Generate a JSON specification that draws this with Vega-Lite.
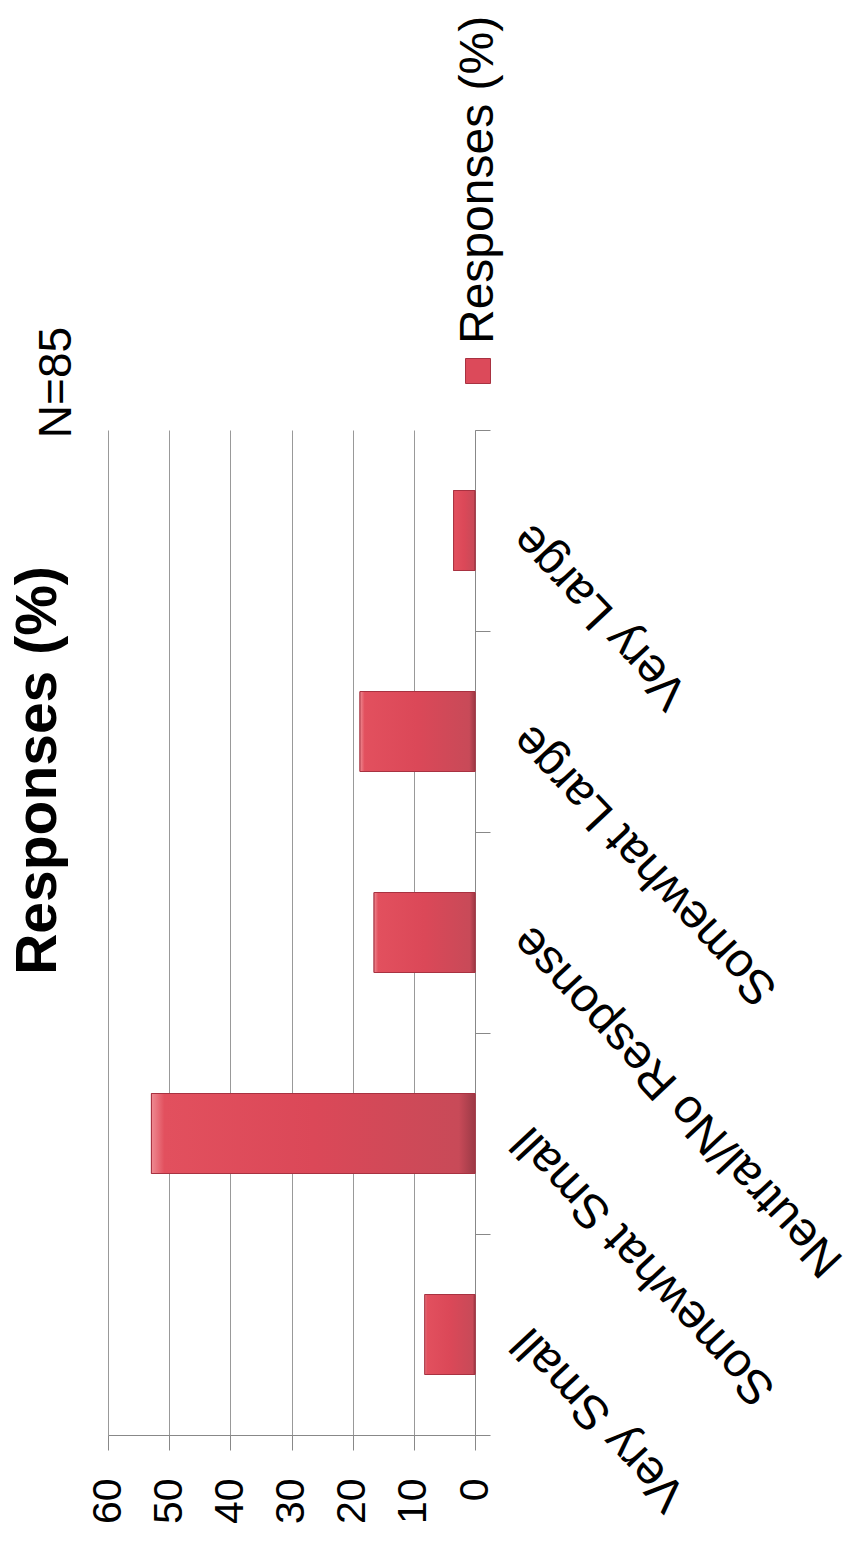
{
  "$schema": "https://vega.github.io/schema/vega-lite/v6.json",
  "autosize": "none",
  "width": 367,
  "height": 1005,
  "padding": {"left": 108, "top": 430, "right": 381, "bottom": 108},
  "background": "white",
  "config": {"view": {"stroke": null}, "font": "Liberation Sans"},
  "title": {
    "text": "Responses (%)",
    "orient": "left",
    "anchor": "middle",
    "offset": -35,
    "dx": 162,
    "fontSize": 57,
    "fontWeight": "bold",
    "font": "Liberation Sans",
    "color": "black"
  },
  "data": {
    "values": [
      {"category": "Very Small", "value": 8.2},
      {"category": "Somewhat Small", "value": 52.9},
      {"category": "Neutral/No Response", "value": 16.5},
      {"category": "Somewhat Large", "value": 18.8},
      {"category": "Very Large", "value": 3.5}
    ]
  },
  "encoding": {
    "y": {
      "field": "category",
      "type": "nominal",
      "sort": ["Very Large", "Somewhat Large", "Neutral/No Response", "Somewhat Small", "Very Small"],
      "scale": {"paddingInner": 0, "paddingOuter": 0},
      "axis": {
        "orient": "right",
        "title": null,
        "tickBand": "extent",
        "domainColor": "#888888",
        "tickColor": "#888888",
        "tickSize": 15,
        "labelAngle": 227,
        "labelAlign": "right",
        "labelBaseline": "middle",
        "labelPadding": 31,
        "labelFontSize": 48,
        "labelFont": "Liberation Sans",
        "labelColor": "black",
        "labelLimit": 0,
        "grid": false
      }
    },
    "x": {
      "field": "value",
      "type": "quantitative",
      "scale": {"domain": [0, 60], "reverse": true, "nice": false},
      "axis": {
        "orient": "bottom",
        "values": [0, 10, 20, 30, 40, 50, 60],
        "grid": true,
        "gridColor": "#999999",
        "domainColor": "#888888",
        "tickColor": "#888888",
        "tickSize": 15,
        "labelAngle": 270,
        "labelAlign": "right",
        "labelBaseline": "middle",
        "labelPadding": 28,
        "labelFontSize": 41,
        "labelFont": "Liberation Sans",
        "labelColor": "black",
        "title": "N=85",
        "titleAngle": 270,
        "titleX": -52,
        "titleY": -1053,
        "titleAlign": "center",
        "titleBaseline": "middle",
        "titleFontSize": 46,
        "titleFontWeight": "normal",
        "titleFont": "Liberation Sans",
        "titleColor": "black"
      }
    }
  },
  "layer": [
    {
      "mark": {"type": "bar", "size": 80, "stroke": "#a83241", "strokeWidth": 1},
      "encoding": {
        "color": {
          "datum": "Responses (%)",
          "scale": {"range": ["#dc4a5a"]},
          "legend": {
            "orient": "none",
            "legendX": 346,
            "legendY": -83,
            "title": null,
            "padding": 0,
            "symbolType": "square",
            "symbolSize": 625,
            "symbolStrokeColor": "#a83241",
            "symbolStrokeWidth": 1,
            "labelFontSize": 48,
            "labelFont": "Liberation Sans",
            "labelColor": "black",
            "labelOffset": -23,
            "labelLimit": 0,
            "encode": {
              "labels": {"update": {"angle": {"value": -90}, "dx": {"value": 27}}}
            }
          }
        }
      }
    },
    {
      "mark": {
        "type": "bar",
        "size": 80,
        "stroke": "#a83241",
        "strokeWidth": 1,
        "color": {
          "gradient": "linear",
          "x1": 0, "y1": 0, "x2": 1, "y2": 0,
          "stops": [
            {"offset": 0, "color": "#ee8a92"},
            {"offset": 0.04, "color": "#e2505e"},
            {"offset": 0.5, "color": "#db4858"},
            {"offset": 0.95, "color": "#c84a58"},
            {"offset": 1, "color": "#9c3a46"}
          ]
        }
      }
    }
  ]
}
